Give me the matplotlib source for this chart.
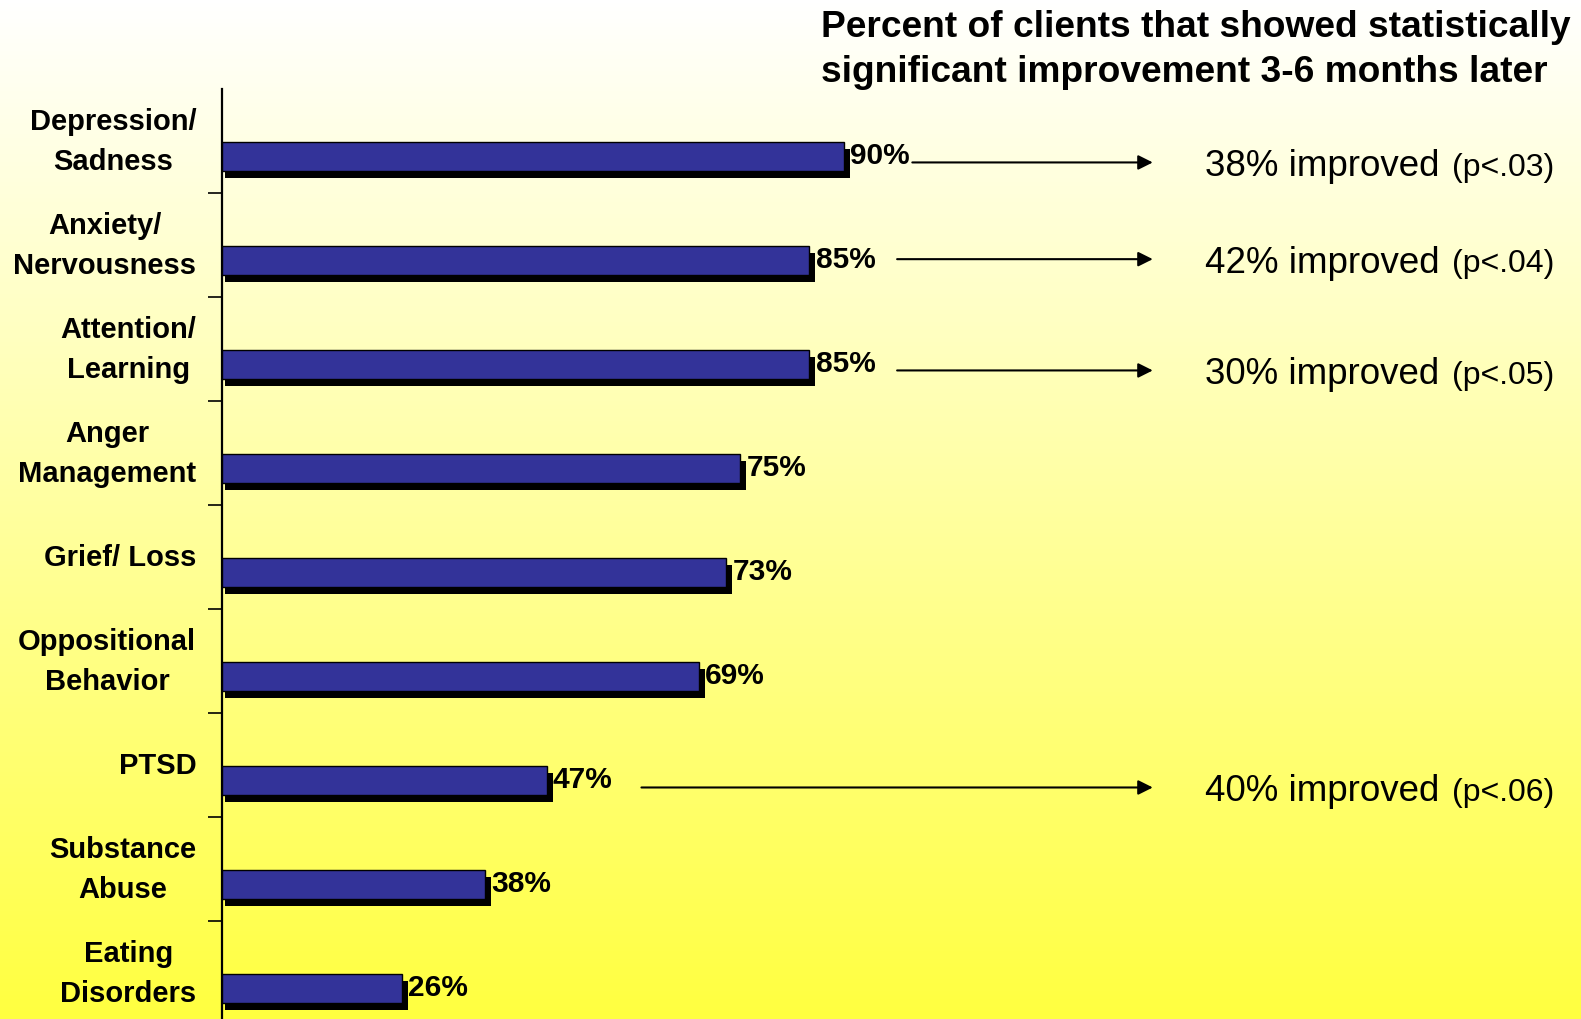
import numpy as np
import matplotlib
matplotlib.use("Agg")
import matplotlib.pyplot as plt

plt.rcParams['font.family'] = ['Liberation Sans', 'DejaVu Sans']

categories = ["Depression/\nSadness", "Anxiety/\nNervousness", "Attention/\nLearning",
              "Anger\nManagement", "Grief/ Loss", "Oppositional\nBehavior", "PTSD",
              "Substance\nAbuse", "Eating\nDisorders"]
percents = [90, 85, 85, 75, 73, 69, 47, 38, 26]

# follow-up results: row index -> (improved %, p value)
improved_rows = [0, 1, 2, 6]
improved_pct = [38, 42, 30, 40]
improved_p = [".03", ".04", ".05", ".06"]

title = "Percent of clients that showed statistically\nsignificant improvement 3-6 months later"


def main():
    W, H = 1581, 1020
    fig = plt.figure(figsize=(W / 100, H / 100), dpi=100)

    # background gradient, cream at top -> yellow at bottom
    bg = fig.add_axes([0, 0, 1, 1], zorder=-10)
    blue = np.linspace(255, 64, 256) / 255.0
    grad = np.ones((256, 1, 3))
    grad[:, 0, 2] = blue
    bg.imshow(grad, aspect='auto', extent=[0, 1, 0, 1], origin='upper')
    bg.set_axis_off()

    x0 = 222
    px_per = 6.91
    top = 89.6
    band = 104.0
    ax = fig.add_axes([x0 / W, 1 - (top + 9 * band) / H, (W - x0) / W, 9 * band / H])
    ax.set_facecolor('none')
    ax.set_xlim(0, (W - x0) / px_per)
    ax.set_ylim(8.5, -0.5)

    y = np.arange(len(categories))
    bar_y = y + 0.155
    bar_h = 0.28
    # shadow
    ax.barh(bar_y + 7 / band, np.array(percents) + 0.37, left=0.5, height=bar_h,
            color='black', zorder=2)
    ax.barh(bar_y, percents, height=bar_h, color='#333399', edgecolor='black',
            linewidth=1.0, zorder=3)

    for yi, v in zip(bar_y, percents):
        ax.text(v + 0.9, yi - 0.02, f"{v}%", ha='left', va='center',
                fontsize=21.5, fontweight='bold', color='black', zorder=4)

    arrow_gap = [9.9, 12.7, 12.7, 13.7]
    arrow_dy = [0.21, 0.14, 0.21, 0.22]
    for k, (row, pct, p) in enumerate(zip(improved_rows, improved_pct, improved_p)):
        v = percents[row]
        ya = row + arrow_dy[k]
        ax.annotate("", xy=(134.7, ya), xytext=(v + arrow_gap[k], ya),
                    arrowprops=dict(arrowstyle='-|>', color='black', lw=1.5,
                                    mutation_scale=22, shrinkA=0, shrinkB=0),
                    annotation_clip=False)
        ax.text(142.3, ya + 0.03, f"{pct}% improved", ha='left', va='center',
                fontsize=26.5, color='black')
        ax.text(192.8, ya + 0.04, f"(p<{p})", ha='right', va='center',
                fontsize=23, color='black')

    ax.set_yticks(y)
    ax.set_yticklabels(categories, fontsize=21, fontweight='bold', va='center')
    for lbl in ax.get_yticklabels():
        lbl.set_multialignment('center')
        lbl.set_linespacing(1.55)
    ax.tick_params(axis='y', which='major', length=0, pad=18.5)
    ax.set_yticks(np.arange(0.5, 8.5, 1), minor=True)
    ax.tick_params(axis='y', which='minor', length=10, width=1.2, direction='out')
    ax.set_xticks([])
    for s in ['top', 'right', 'bottom']:
        ax.spines[s].set_visible(False)
    ax.spines['left'].set_linewidth(1.6)

    fig.text(821 / W, 1 - 50 / H, title, ha='left', va='center',
             fontsize=26.7, fontweight='bold', linespacing=1.37)

    fig.savefig("out.png", dpi=100)


if __name__ == "__main__":
    main()
